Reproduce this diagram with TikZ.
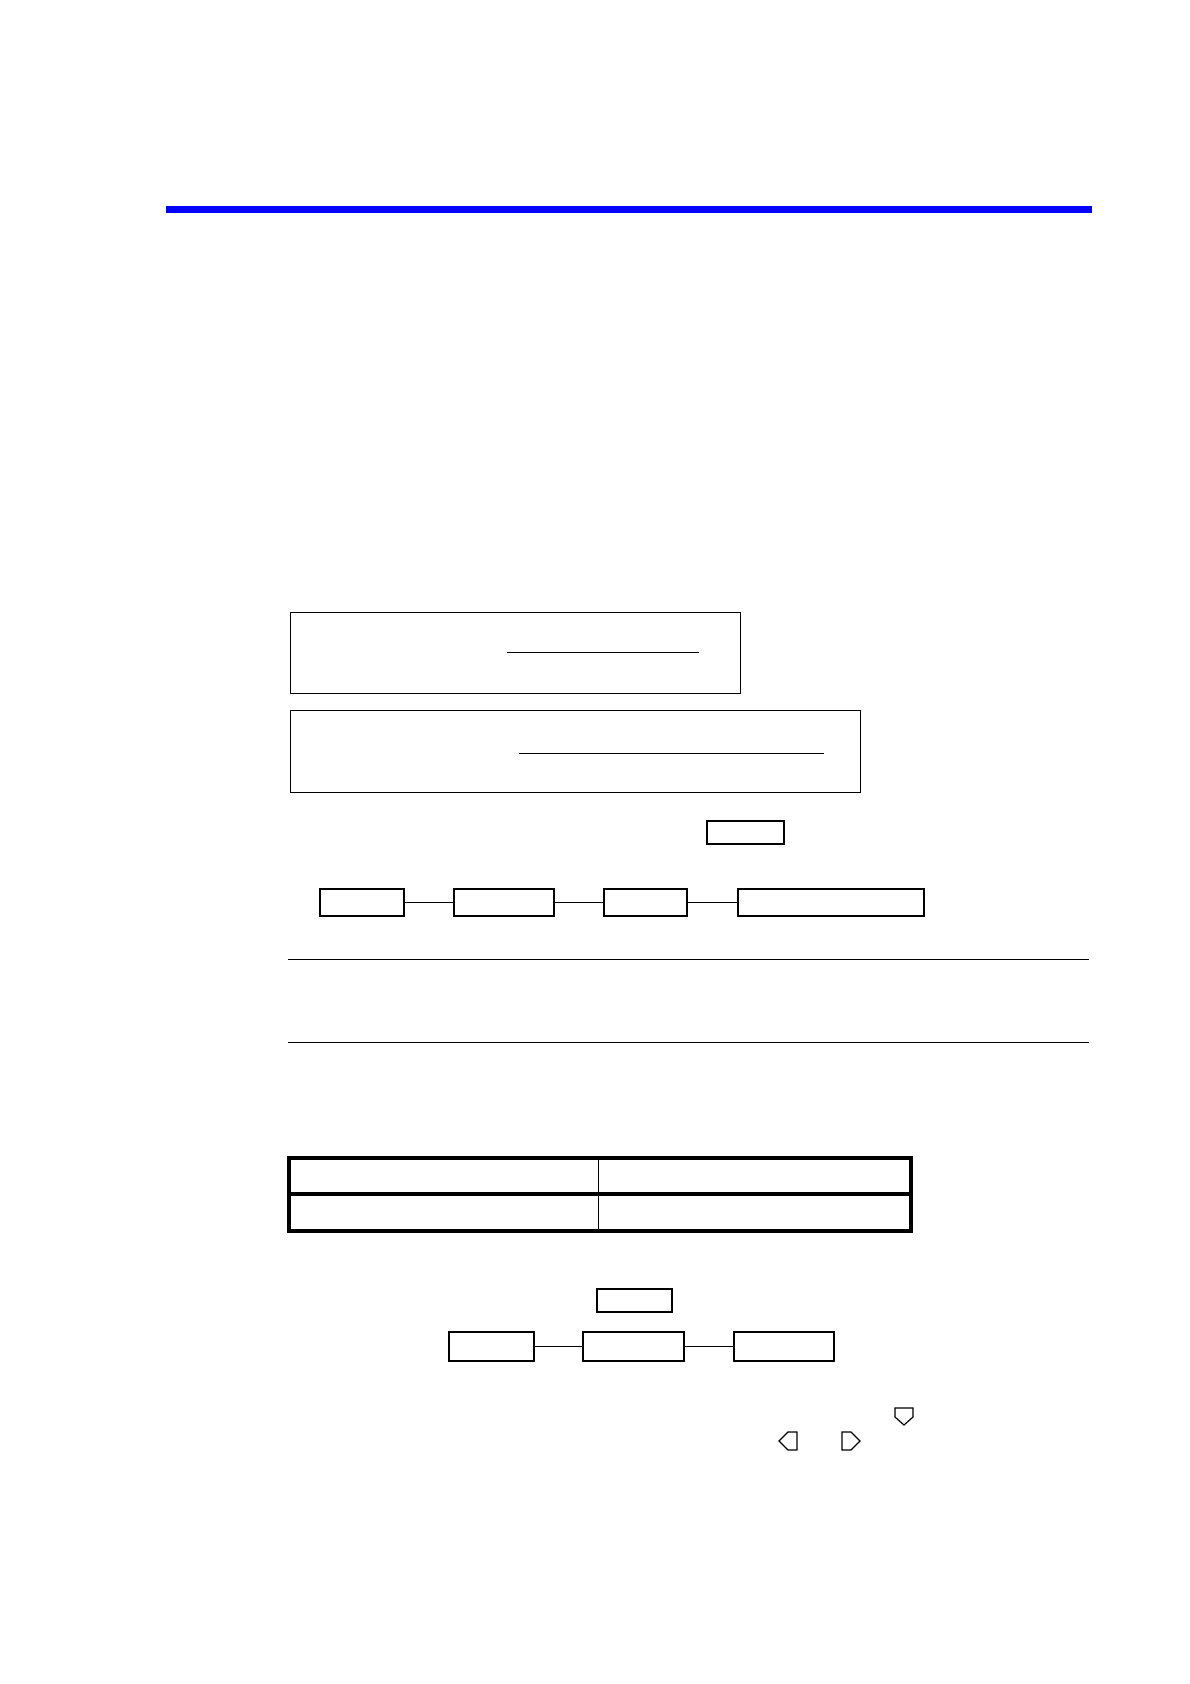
\documentclass[tikz,border=0pt]{standalone}
\begin{document}
\begin{tikzpicture}[x=1pt,y=-1pt,
  thinbox/.style={draw=black, line width=1.1pt, inner sep=0pt, anchor=north west},
  thickbox/.style={draw=black, line width=2pt, inner sep=0pt, anchor=north west},
  link/.style={draw=black, line width=1pt},
  keyglyph/.style={draw=black, line width=1.2pt, line join=miter}]
\useasboundingbox (0,0) rectangle (1190,1684);
\fill[white] (0,0) rectangle (1190,1684);
% header bar
\fill[blue] (166,206) rectangle (1092,213);
% framed boxes
\node[thinbox, minimum width=450pt, minimum height=81pt] (box1) at (290,612) {};
\draw[line width=1pt] (507,652) -- (699,652);
\node[thinbox, minimum width=570pt, minimum height=82pt] (box2) at (290,710) {};
\draw[line width=1pt] (519,753) -- (824,753);
% key box
\node[thickbox, minimum width=77pt, minimum height=23pt] (k1) at (706,820) {};
% first chain
\node[thickbox, minimum width=84pt, minimum height=27pt] (a1) at (319,888) {};
\node[thickbox, minimum width=100pt, minimum height=27pt] (a2) at (453,888) {};
\node[thickbox, minimum width=83pt, minimum height=27pt] (a3) at (603,888) {};
\node[thickbox, minimum width=186pt, minimum height=27pt] (a4) at (737,888) {};
\draw[link] (a1.east) -- (a2.west);
\draw[link] (a2.east) -- (a3.west);
\draw[link] (a3.east) -- (a4.west);
% rules
\draw[line width=1pt] (288,959) -- (1089,959);
\draw[line width=1pt] (288,1042) -- (1089,1042);
% table
\draw[line width=1pt] (598,1158) -- (598,1231);
\draw[line width=4pt] (289,1194) -- (911,1194);
\draw[line width=4pt] (289,1158) rectangle (911,1231);
% second key box and chain
\node[thickbox, minimum width=75pt, minimum height=23pt] (k2) at (596,1288) {};
\node[thickbox, minimum width=85pt, minimum height=29pt] (b1) at (448,1331) {};
\node[thickbox, minimum width=101pt, minimum height=29pt] (b2) at (582,1331) {};
\node[thickbox, minimum width=100pt, minimum height=29pt] (b3) at (733,1331) {};
\draw[link] (b1.east) -- (b2.west);
\draw[link] (b2.east) -- (b3.west);
% key symbols
\draw[keyglyph] (895,1408) -- (913,1408) -- (913,1417) -- (904,1425) -- (895,1417) -- cycle;
\draw[keyglyph] (797,1432) -- (797,1450) -- (788,1450) -- (779,1441) -- (788,1432) -- cycle;
\draw[keyglyph] (842,1432) -- (842,1450) -- (851,1450) -- (860,1441) -- (851,1432) -- cycle;
\end{tikzpicture}
\end{document}
